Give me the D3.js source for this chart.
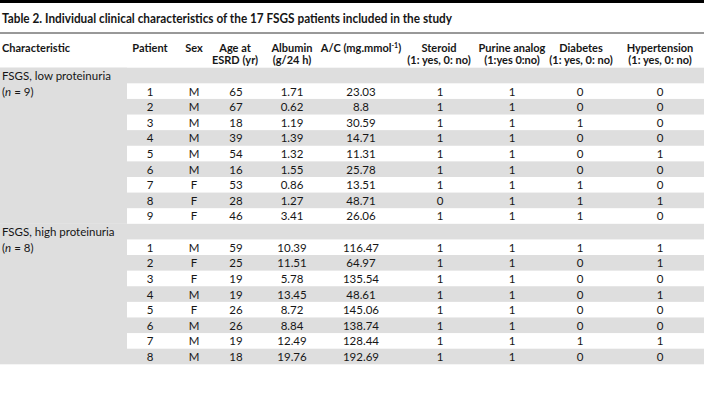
<!DOCTYPE html>
<meta charset="utf-8">
<style>
  body { margin: 0; background: #fff; }
  text { font-family: Lato, "Open Sans", sans-serif; fill: #161616; }
</style>
<body>
<script src="https://d3js.org/d3.v7.min.js"></script>
<div id="my_table"></div>
<script>

// table content
const title = "Table 2. Individual clinical characteristics of the 17 FSGS patients included in the study";
const groupNames = ["FSGS, low proteinuria", "FSGS, high proteinuria"];
const groupN = [9, 8];
const columns = ["Patient", "Sex", "Age", "Albumin", "AC", "Steroid", "Purine", "Diabetes", "Hypertension"];
const headLine1 = ["Patient", "Sex", "Age at", "Albumin", "A/C (mg.mmol", "Steroid", "Purine analog", "Diabetes", "Hypertension"];
const headLine2 = ["", "", "ESRD (yr)", "(g/24 h)", "", "(1: yes, 0: no)", "(1:yes 0:no)", "(1: yes, 0: no)", "(1: yes, 0: no)"];

const patient = [1, 2, 3, 4, 5, 6, 7, 8, 9, 1, 2, 3, 4, 5, 6, 7, 8];
const sex = ["M", "M", "M", "M", "M", "M", "F", "F", "F", "M", "F", "F", "M", "F", "M", "M", "M"];
const age = [65, 67, 18, 39, 54, 16, 53, 28, 46, 59, 25, 19, 19, 26, 26, 19, 18];
const albumin = ["1.71", "0.62", "1.19", "1.39", "1.32", "1.55", "0.86", "1.27", "3.41",
                 "10.39", "11.51", "5.78", "13.45", "8.72", "8.84", "12.49", "19.76"];
const ac = ["23.03", "8.8", "30.59", "14.71", "11.31", "25.78", "13.51", "48.71", "26.06",
            "116.47", "64.97", "135.54", "48.61", "145.06", "138.74", "128.44", "192.69"];
const steroid = [1, 1, 1, 1, 1, 1, 1, 0, 1, 1, 1, 1, 1, 1, 1, 1, 1];
const purine = [1, 1, 1, 1, 1, 1, 1, 1, 1, 1, 1, 1, 1, 1, 1, 1, 1];
const diabetes = [0, 0, 1, 0, 0, 0, 1, 1, 1, 1, 0, 0, 0, 0, 0, 1, 0];
const hypertension = [0, 0, 0, 0, 1, 0, 0, 1, 0, 1, 1, 0, 1, 0, 0, 1, 0];

const W = 704, H = 419;
const svg = d3.select("#my_table").append("svg")
  .attr("width", W).attr("height", H);

// build the rows: one header row per group, then its patients
let rows = [];
let k = 0;
groupNames.forEach(function(g, gi) {
  rows.push({id: "g" + gi, group: gi, head: true});
  for (let i = 0; i < groupN[gi]; i++) {
    rows.push({id: "r" + k, group: gi, head: false, idx: i, cells: [
      patient[k], sex[k], age[k], albumin[k], ac[k], steroid[k], purine[k], diabetes[k], hypertension[k]
    ]});
    k++;
  }
});

const y = d3.scaleBand()
  .domain(rows.map(d => d.id))
  .range([67.7, 364.3]);

const x = d3.scaleOrdinal()
  .domain(columns)
  .range([150, 194, 236, 292, 361, 440, 512, 580, 660]);

const headX = d3.scaleOrdinal()
  .domain(columns)
  .range([150, 194, 235, 292, 361, 439, 512, 581, 660]);

const grey = "#dedede";
const leftW = 127;

// row stripes
svg.selectAll(".stripe")
  .data(rows.filter(d => d.head || d.idx % 2 == 1))
  .enter().append("rect")
    .attr("x", d => d.head ? 0 : leftW)
    .attr("y", d => y(d.id))
    .attr("width", d => d.head ? W : W - leftW)
    .attr("height", y.bandwidth())
    .attr("fill", grey);

// left column block per group
groupNames.forEach(function(g, gi) {
  const ids = rows.filter(d => d.group == gi).map(d => d.id);
  svg.append("rect")
    .attr("x", 0)
    .attr("y", y(ids[0]))
    .attr("width", leftW)
    .attr("height", y.bandwidth() * ids.length)
    .attr("fill", grey);
  svg.append("text")
    .attr("x", 2)
    .attr("y", y(ids[0]) + 12.3)
    .attr("font-size", "11.5px")
    .text(g);
  const t2 = svg.append("text")
    .attr("x", 2)
    .attr("y", y(ids[0]) + 12.3 + y.bandwidth())
    .attr("font-size", "11.5px");
  t2.append("tspan").text("(");
  t2.append("tspan").attr("font-style", "italic").text("n");
  t2.append("tspan").text(" = " + groupN[gi] + ")");
});

// top bar, title, rule
svg.append("rect").attr("x", 0).attr("y", 0).attr("width", W).attr("height", 3).attr("fill", "#000");
svg.append("text")
  .attr("x", 2).attr("y", 23)
  .attr("font-size", "12.5px")
  .attr("font-weight", "bold")
  .attr("textLength", 450)
  .attr("lengthAdjust", "spacingAndGlyphs")
  .text(title);
svg.append("line")
  .attr("x1", 0).attr("x2", W).attr("y1", 33).attr("y2", 33)
  .attr("stroke", "#333").attr("stroke-width", 1);

// column headers
svg.append("text")
  .attr("x", 2).attr("y", 52)
  .attr("font-size", "11px").attr("font-weight", "bold")
  .text("Characteristic");

columns.forEach(function(c, ci) {
  const t = svg.append("text")
    .attr("x", headX(c)).attr("y", 52)
    .attr("text-anchor", "middle")
    .attr("font-size", "11px").attr("font-weight", "bold")
    .text(headLine1[ci]);
  if (c == "AC") {
    t.append("tspan").attr("font-size", "7px").attr("dy", -4).text("-1");
    t.append("tspan").attr("dy", 4).text(")");
  }
  if (headLine2[ci] != "") {
    svg.append("text")
      .attr("x", headX(c)).attr("y", 64)
      .attr("text-anchor", "middle")
      .attr("font-size", "11px").attr("font-weight", "bold")
      .text(headLine2[ci]);
  }
});

// cells
rows.filter(d => !d.head).forEach(function(r) {
  svg.selectAll(null)
    .data(r.cells)
    .enter().append("text")
      .attr("x", (d, i) => x(columns[i]))
      .attr("y", y(r.id) + 12.3)
      .attr("text-anchor", "middle")
      .attr("font-size", "11.5px")
      .text(d => d);
});

</script>
</body>
